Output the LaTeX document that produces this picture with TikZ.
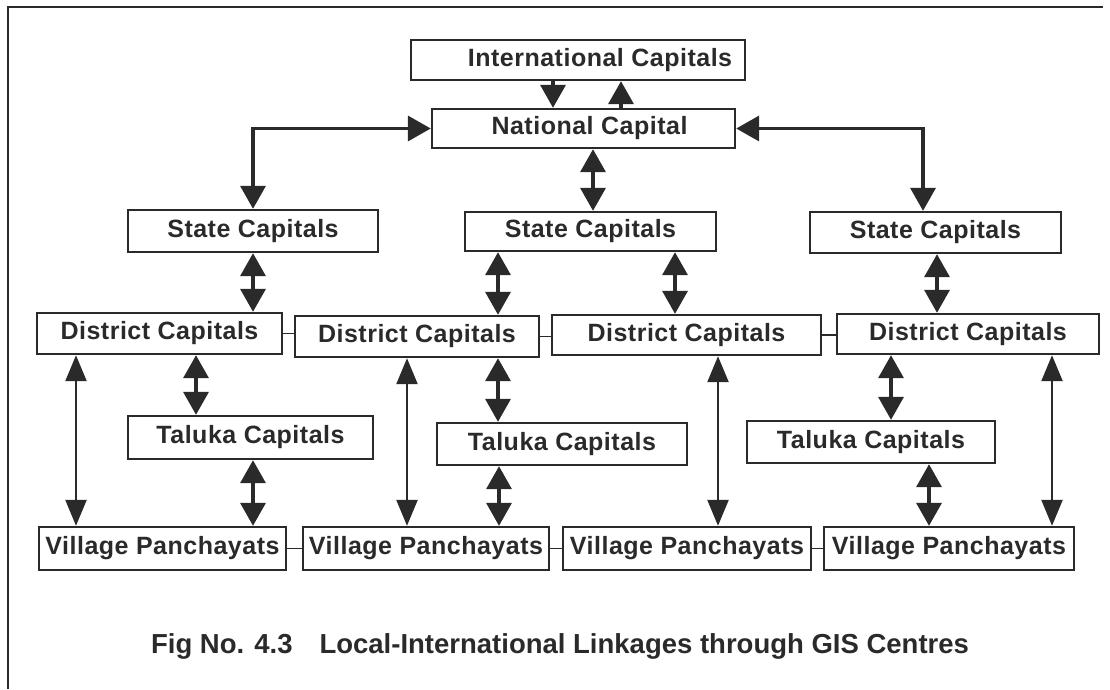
\documentclass[tikz,border=0pt]{standalone}
\usepackage{fontspec}
\setmainfont{Liberation Sans}
\usetikzlibrary{arrows.meta}
\definecolor{ink}{HTML}{2A2A2A}
\begin{document}
\begin{tikzpicture}[x=1pt,y=-1pt,
  box/.style={draw=ink, line width=2.4pt, inner sep=0pt, text=ink,
    font=\fontsize{25}{29}\selectfont\bfseries\addfontfeature{LetterSpace=2}},
  tipbig/.tip={Triangle[length=23pt,width=25pt]},
  tiplong/.tip={Triangle[length=26pt,width=21pt]},
  dbl/.style={draw=ink, line width=3.6pt, {tipbig}-{tipbig}},
  one/.style={draw=ink, line width=3.6pt, -{tipbig}},
  longdbl/.style={draw=ink, line width=2.4pt, {tiplong}-{tiplong}},
  link/.style={draw=ink, line width=1.6pt},
  frameline/.style={draw=ink, line width=2pt}]
\useasboundingbox (0,0) rectangle (1110,689);
% frame
\coordinate (fTL) at (8,7);
\coordinate (fTR) at (1103,7);
\coordinate (fBL) at (8,689);
\draw[frameline] (fBL) -- (fTL) -- (fTR);
% boxes
\node[box, minimum width=334pt, minimum height=40pt] (intl) at (578,60) {\hspace*{44pt}International Capitals};
\node[box, minimum width=303pt, minimum height=39pt] (nat) at (583.5,128.5) {\hspace*{12pt}National Capital};
\node[box, minimum width=250pt, minimum height=42pt] (sl) at (253,231) {State Capitals};
\node[box, minimum width=251pt, minimum height=39pt] (sm) at (590.5,231.5) {State Capitals};
\node[box, minimum width=251pt, minimum height=41pt] (sr) at (935.5,232.5) {State Capitals};
\node[box, minimum width=245pt, minimum height=41pt] (d1) at (159.5,333.5) {District Capitals};
\node[box, minimum width=244pt, minimum height=41pt] (d2) at (417,336.5) {District Capitals};
\node[box, minimum width=269pt, minimum height=40pt] (d3) at (686.5,335) {District Capitals};
\node[box, minimum width=262pt, minimum height=40pt] (d4) at (968,334) {District Capitals};
\node[box, minimum width=245pt, minimum height=43pt] (t1) at (250.5,437.5) {Taluka Capitals};
\node[box, minimum width=250pt, minimum height=42pt] (t2) at (562,444) {Taluka Capitals};
\node[box, minimum width=248pt, minimum height=42pt] (t3) at (871,442) {Taluka Capitals};
\node[box, minimum width=247pt, minimum height=43pt] (v1) at (162.5,548.5) {Village Panchayats};
\node[box, minimum width=246pt, minimum height=43pt] (v2) at (426,548.5) {Village Panchayats};
\node[box, minimum width=248pt, minimum height=43pt] (v3) at (687,548.5) {Village Panchayats};
\node[box, minimum width=250pt, minimum height=43pt] (v4) at (949,548.5) {Village Panchayats};
% caption
\node[anchor=base, text=ink, inner sep=0pt, font=\fontsize{27.5}{32}\selectfont\bfseries] (cap) at (560,653)
  {Fig No. 4.3\hspace{0.7em} Local-International Linkages through GIS Centres};
% International <-> National
\coordinate (ia) at ([xshift=-25pt]intl.south);
\coordinate (ib) at ([xshift=43pt]intl.south);
\draw[one] (ia) -- (ia |- nat.north);
\draw[one] (ib |- nat.north) -- (ib);
% National <-> States
\draw[dbl] (nat.west) -- (nat.west -| sl.north) -- (sl.north);
\coordinate (sra) at ([xshift=-12.5pt]sr.north);
\draw[dbl] (nat.east) -- (nat.east -| sra) -- (sra);
\coordinate (nm) at ([xshift=9.5pt]nat.south);
\draw[dbl] (nm) -- (nm |- sm.north);
% States <-> Districts
\draw[dbl] (sl.south) -- (sl.south |- d1.north);
\coordinate (sm1) at ([xshift=-92.5pt]sm.south);
\draw[dbl] (sm1) -- (sm1 |- d2.north);
\coordinate (sm2) at ([xshift=84.5pt]sm.south);
\draw[dbl] (sm2) -- (sm2 |- d3.north);
\coordinate (sr1) at ([xshift=1.5pt]sr.south);
\draw[dbl] (sr1) -- (sr1 |- d4.north);
% Districts <-> Talukas
\coordinate (d1t) at ([xshift=36.5pt]d1.south);
\draw[dbl] (d1t) -- (d1t |- t1.north);
\coordinate (d2t) at ([xshift=81pt]d2.south);
\draw[dbl] (d2t) -- (d2t |- t2.north);
\coordinate (d4t) at ([xshift=-77pt]d4.south);
\draw[dbl] (d4t) -- (d4t |- t3.north);
% Talukas <-> Villages
\coordinate (t1v) at ([xshift=2.5pt]t1.south);
\draw[dbl] (t1v) -- (t1v |- v1.north);
\coordinate (t2v) at ([xshift=-63pt]t2.south);
\draw[dbl] (t2v) -- (t2v |- v2.north);
\coordinate (t3v) at ([xshift=58pt]t3.south);
\draw[dbl] (t3v) -- (t3v |- v4.north);
% Districts <-> Villages (long)
\coordinate (d1v) at ([xshift=-83.5pt]d1.south);
\draw[longdbl] (d1v) -- (d1v |- v1.north);
\coordinate (d2v) at ([xshift=-10pt]d2.south);
\draw[longdbl] (d2v) -- (d2v |- v2.north);
\coordinate (d3v) at ([xshift=31.5pt]d3.south);
\draw[longdbl] (d3v) -- (d3v |- v3.north);
\coordinate (d4v) at ([xshift=84pt]d4.south);
\draw[longdbl] (d4v) -- (d4v |- v4.north);
% horizontal links
\draw[link] (d1.east) -- (d1.east -| d2.west);
\draw[link] (d2.east) -- (d2.east -| d3.west);
\draw[link] (d3.east) -- (d3.east -| d4.west);
\draw[link] (v1.east) -- (v2.west);
\draw[link] (v2.east) -- (v3.west);
\draw[link] (v3.east) -- (v4.west);
\end{tikzpicture}
\end{document}
